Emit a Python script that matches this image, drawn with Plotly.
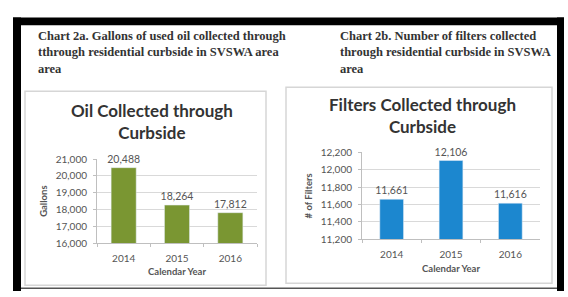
import plotly.graph_objects as go

years = ["2014", "2015", "2016"]
oil_gallons = [20488, 18264, 17812]
filters = [11661, 12106, 11616]
oil_ticks = [16000, 17000, 18000, 19000, 20000, 21000]
filter_ticks = [11200, 11400, 11600, 11800, 12000, 12200]

W, H = 568, 297
def px(x): return x / W
def py(y): return 1 - y / H

fig = go.Figure()
fig.add_trace(go.Bar(x=years, y=oil_gallons, marker_color="#7A9632",
                     texttemplate="%{y:,}", textposition="outside", cliponaxis=False,
                     constraintext="none",
                     textfont=dict(family="Lato", size=10.5, color="#555"),
                     xaxis="x", yaxis="y", width=0.47))
fig.add_trace(go.Bar(x=years, y=filters, marker_color="#1C87CF",
                     texttemplate="%{y:,}", textposition="outside", cliponaxis=False,
                     constraintext="none",
                     textfont=dict(family="Lato", size=10.5, color="#555"),
                     xaxis="x2", yaxis="y2", width=0.4))

axfont = dict(family="Lato", size=10, color="#555")
ttlfont = dict(family="Lato", size=9.5, color="#555")
common_y = dict(showgrid=True, gridcolor="#d9d9d9", gridwidth=1, showline=True,
                linecolor="#bfbfbf", ticks="outside", ticklen=3, tickcolor="#bfbfbf",
                tickfont=axfont, tickformat=",", zeroline=False, ticklabelstandoff=4)
common_x = dict(showline=True, linecolor="#bfbfbf", ticks="outside", ticklen=3,
                tickcolor="#bfbfbf", tickson="boundaries", tickfont=axfont,
                showgrid=False, ticklabelstandoff=6)

fig.update_layout(
    width=W, height=H, margin=dict(l=0, r=0, t=0, b=0),
    paper_bgcolor="white", plot_bgcolor="white", showlegend=False,
    xaxis=dict(domain=[px(97), px(257)], anchor="y", **common_x,
               title=dict(text="<b>Calendar Year</b>", font=ttlfont, standoff=5)),
    yaxis=dict(domain=[py(247), py(159)], anchor="x", range=[16000, 21000],
               tickvals=oil_ticks, **common_y,
               title=dict(text="<b>Gallons</b>", font=ttlfont, standoff=6)),
    xaxis2=dict(domain=[px(362), px(540)], anchor="y2", **common_x,
                title=dict(text="<b>Calendar Year</b>", font=ttlfont, standoff=5)),
    yaxis2=dict(domain=[py(243), py(152)], anchor="x2", range=[11200, 12200],
                tickvals=filter_ticks, **common_y,
                title=dict(text="<b># of Filters</b>", font=ttlfont, standoff=6)),
)

shapes = []
black = dict(type="rect", xref="paper", yref="paper", line=dict(width=0), fillcolor="black", layer="above")
shapes.append(dict(black, x0=px(13), x1=px(564), y0=py(19), y1=py(11)))
shapes.append(dict(black, x0=px(13), x1=px(21), y0=py(297), y1=py(11)))
shapes.append(dict(black, x0=px(557), x1=px(564), y0=py(297), y1=py(11)))
shapes.append(dict(type="line", xref="paper", yref="paper", x0=px(21), x1=px(557),
                   y0=py(294), y1=py(294), line=dict(color="#555", width=1.5)))
shapes.append(dict(type="rect", xref="paper", yref="paper", x0=px(25), x1=px(266),
                   y0=py(291), y1=py(88), line=dict(color="#d6d6d6", width=1.5), layer="below"))
shapes.append(dict(type="rect", xref="paper", yref="paper", x0=px(286), x1=px(552),
                   y0=py(289), y1=py(84), line=dict(color="#d6d6d6", width=1.5), layer="below"))
fig.update_layout(shapes=shapes)

head_font = dict(family="Liberation Serif", size=12.5, color="#333")
title_font = dict(family="Lato", size=17, color="#333")
ann = [
    dict(x=px(36), y=py(21), xanchor="left", yanchor="top", align="left",
         text="<b>Chart 2a. Gallons of used oil collected through<br>tthrough residential curbside in SVSWA area<br>area</b>",
         font=head_font),
    dict(x=px(338), y=py(21), xanchor="left", yanchor="top", align="left",
         text="<b>Chart 2b. Number of filters collected<br>through residential curbside in SVSWA<br>area</b>",
         font=head_font),
    dict(x=px(152), y=py(95), xanchor="center", yanchor="top", align="center",
         text="<b>Oil Collected through<br>Curbside</b>", font=title_font),
    dict(x=px(422), y=py(89), xanchor="center", yanchor="top", align="center",
         text="<b>Filters Collected through<br>Curbside</b>", font=title_font),
]
for a in ann:
    a.update(xref="paper", yref="paper", showarrow=False)
fig.update_layout(annotations=ann)

fig.write_html("out.html", config={"displayModeBar": False},
               post_script="document.body.style.margin='0';document.body.style.overflow='hidden';")
